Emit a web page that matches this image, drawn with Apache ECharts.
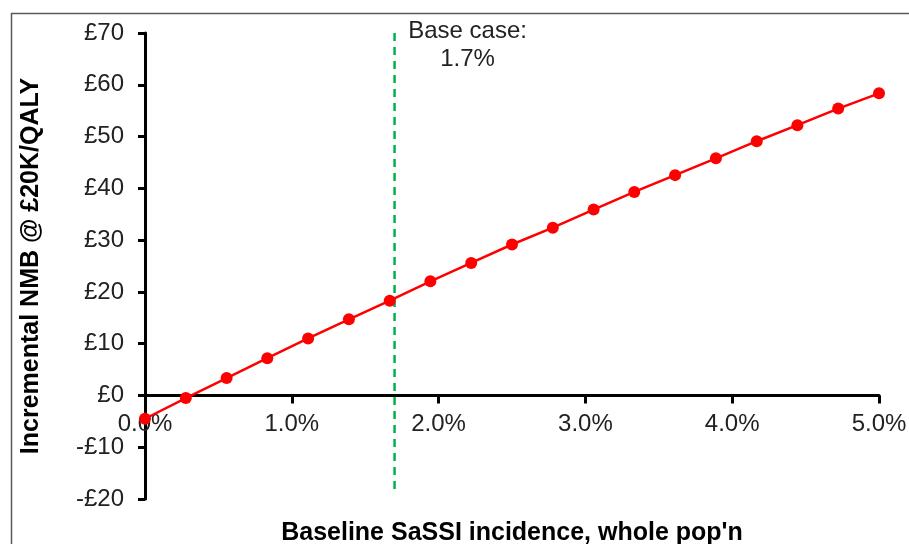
<!DOCTYPE html>
<html><head><meta charset="utf-8">
<script src="https://cdn.jsdelivr.net/npm/echarts@6/dist/echarts.min.js"></script>
<style>html,body{margin:0;padding:0;background:#fff}#c{width:909px;height:544px}</style>
</head><body><div id="c"></div>
<script>
var incidence = [0, 0.278, 0.556, 0.833, 1.111, 1.389, 1.667, 1.944, 2.222, 2.5, 2.778, 3.056, 3.333, 3.611, 3.889, 4.167, 4.444, 4.722, 5.0];
var nmb = [-4.5, -0.5, 3.35, 7.2, 11.0, 14.7, 18.3, 22.05, 25.6, 29.15, 32.4, 35.9, 39.3, 42.55, 45.8, 49.1, 52.2, 55.4, 58.35];
var baseCase = 1.7;
var baseCaseSpan = [70, -19];
var baseCaseText = 'Base case:\n1.7%';
var yTitle = 'Incremental NMB @ £20K/QALY';
var xTitle = "Baseline SaSSI incidence, whole pop'n";

var font = 'Liberation Sans, Arial, sans-serif';
var chart = echarts.init(document.getElementById('c'), null, {renderer: 'canvas'});
function pct(v) { return v.toFixed(1) + '%'; }
var option = {
  animation: false,
  backgroundColor: '#fff',
  grid: [
    {left: 145, right: 30, top: 33, bottom: 45, containLabel: false, outerBoundsMode: 'none'},
    {left: 145, right: 30, top: 33, bottom: 149, containLabel: false, outerBoundsMode: 'none'}
  ],
  xAxis: [
    {
      gridIndex: 0, type: 'value', min: 0, max: 5, interval: 1,
      axisLine: {show: true, onZero: true, lineStyle: {color: '#000', width: 3}},
      axisTick: {show: true, length: 8, lineStyle: {color: '#000', width: 3}},
      splitLine: {show: false},
      axisLabel: {show: false},
      name: xTitle, nameLocation: 'middle', nameGap: 22,
      nameTextStyle: {color: '#000', fontSize: 25, fontWeight: 'bold', fontFamily: font, verticalAlign: 'top'}
    },
    {
      gridIndex: 1, type: 'value', min: 0, max: 5, interval: 1,
      axisLine: {show: false}, axisTick: {show: false}, splitLine: {show: false},
      axisLabel: {color: '#222', fontSize: 24, fontFamily: font, margin: 17, formatter: pct}
    }
  ],
  yAxis: [
    {
      gridIndex: 0, type: 'value', min: -20, max: 70, interval: 10,
      axisLine: {show: true, onZero: false, lineStyle: {color: '#000', width: 3}},
      axisTick: {show: true, length: 7, lineStyle: {color: '#000', width: 3}},
      splitLine: {show: false},
      axisLabel: {color: '#222', fontSize: 24, fontFamily: font, margin: 21,
        formatter: function (v) { return (v < 0 ? '-£' : '£') + Math.abs(v); }},
      name: yTitle, nameLocation: 'middle', nameGap: 101, nameRotate: 90,
      nameTextStyle: {color: '#000', fontSize: 25, fontWeight: 'bold', fontFamily: font}
    },
    {
      gridIndex: 1, type: 'value', min: 0, max: 1, show: false
    }
  ],
  series: [
    {
      type: 'line', xAxisIndex: 0, yAxisIndex: 0,
      data: [[baseCase, baseCaseSpan[0]], [baseCase, baseCaseSpan[1]]],
      showSymbol: false, symbol: 'none',
      lineStyle: {color: '#00B050', width: 2.5, type: [8, 6]},
      silent: true, z: 1
    },
    {
      type: 'line', xAxisIndex: 0, yAxisIndex: 0,
      data: incidence.map(function (x, i) { return [x, nmb[i]]; }),
      symbol: 'circle', symbolSize: 12, showAllSymbol: true,
      itemStyle: {color: '#FF0000'},
      lineStyle: {color: '#FF0000', width: 2.5},
      z: 3
    }
  ]
};
chart.setOption(option);
var p = chart.convertToPixel({xAxisIndex: 0, yAxisIndex: 0}, [baseCase, baseCaseSpan[0]]);
chart.setOption({graphic: [
  {type: 'rect', shape: {x: 11.5, y: 13.5, width: 1200, height: 1200},
   style: {fill: null, stroke: '#595959', lineWidth: 1.5}, z: 0, silent: true},
  {type: 'text', x: p[0] + 73, y: 17,
   style: {text: baseCaseText, fill: '#222', font: '24px ' + font, align: 'center', verticalAlign: 'top', lineHeight: 28}, z: 10}
]});
</script></body></html>
